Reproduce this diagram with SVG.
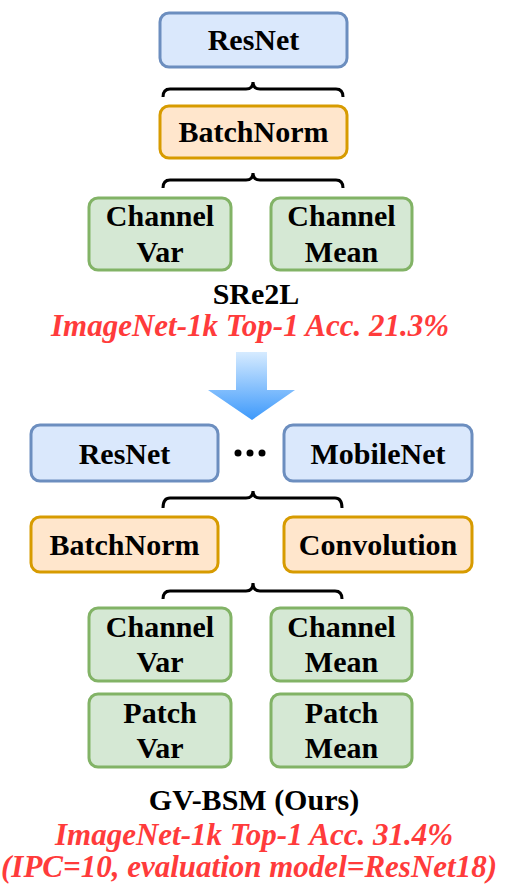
<svg xmlns="http://www.w3.org/2000/svg" width="508" height="886" viewBox="0 0 508 886">
<style>
.t{font-family:"Liberation Serif","Times New Roman",serif;font-weight:bold;font-size:30px;fill:#000;text-anchor:middle}
.r{font-family:"Liberation Serif","Times New Roman",serif;font-weight:bold;font-style:italic;font-size:31px;fill:#ff3b3b;text-anchor:middle}
.blue{fill:#dae8fc;stroke:#6c8ebf;stroke-width:3}
.org{fill:#ffe6cc;stroke:#d79b00;stroke-width:3}
.grn{fill:#d5e8d4;stroke:#82b366;stroke-width:3}
.br{fill:none;stroke:#000;stroke-width:3}
</style>
<defs>
<linearGradient id="ag" x1="0" y1="0" x2="0" y2="1">
<stop offset="0" stop-color="#d6ebff"/>
<stop offset="1" stop-color="#3d99fb"/>
</linearGradient>
</defs>
<g id="resnet1"><rect class="blue" x="160" y="13" width="187" height="54" rx="9"/><text class="t" x="253.5" y="50">ResNet</text></g>
<g id="batchnorm1"><rect class="org" x="160" y="106" width="187" height="52" rx="9"/><text class="t" x="253.5" y="142">BatchNorm</text></g>
<g id="chvar1"><rect class="grn" x="89" y="198" width="142" height="72" rx="9"/><text class="t" x="160" y="226">Channel</text><text class="t" x="160" y="262">Var</text></g>
<g id="chmean1"><rect class="grn" x="271" y="198" width="141" height="72" rx="9"/><text class="t" x="341.5" y="226">Channel</text><text class="t" x="341.5" y="262">Mean</text></g>
<g id="sre2l"><text class="t" x="256" y="304">SRe2L</text><text class="r" x="250" y="336">ImageNet-1k Top-1 Acc. 21.3%</text></g>
<g id="arrow"><path d="M236,352 L267,352 L267,390 L295,390 L252,420 L208,390 L236,390 Z" fill="url(#ag)"/></g>
<g id="resnet2"><rect class="blue" x="31" y="425" width="187" height="56" rx="9"/><text class="t" x="124.5" y="464">ResNet</text></g>
<g id="dots"><circle cx="238" cy="453" r="3.5"/><circle cx="250" cy="453" r="3.5"/><circle cx="262" cy="453" r="3.5"/></g>
<g id="mobilenet"><rect class="blue" x="284" y="425" width="188" height="56" rx="9"/><text class="t" x="378" y="464">MobileNet</text></g>
<g id="batchnorm2"><rect class="org" x="31" y="517" width="187" height="55" rx="9"/><text class="t" x="124.5" y="555">BatchNorm</text></g>
<g id="convolution"><rect class="org" x="284" y="517" width="188" height="55" rx="9"/><text class="t" x="378" y="555">Convolution</text></g>
<g id="chvar2"><rect class="grn" x="89" y="608" width="142" height="73" rx="9"/><text class="t" x="160" y="637">Channel</text><text class="t" x="160" y="672">Var</text></g>
<g id="chmean2"><rect class="grn" x="271" y="608" width="141" height="73" rx="9"/><text class="t" x="341.5" y="637">Channel</text><text class="t" x="341.5" y="672">Mean</text></g>
<g id="patchvar"><rect class="grn" x="89" y="694" width="142" height="73" rx="9"/><text class="t" x="160" y="723">Patch</text><text class="t" x="160" y="758">Var</text></g>
<g id="patchmean"><rect class="grn" x="271" y="694" width="141" height="73" rx="9"/><text class="t" x="341.5" y="723">Patch</text><text class="t" x="341.5" y="758">Mean</text></g>
<g id="gvbsm"><text class="t" x="254" y="810">GV-BSM (Ours)</text><text class="r" x="254" y="845">ImageNet-1k Top-1 Acc. 31.4%</text><text class="r" x="249" y="877">(IPC=10, evaluation model=ResNet18)</text></g>
<g id="connectors">
<path class="br" d="M163,97 Q163,89 170,89 L246,89 Q253,89 253,82 Q253,89 260,89 L336,89 Q343,89 343,97"/>
<path class="br" d="M163,188 Q163,180 170,180 L246,180 Q253,180 253,173 Q253,180 260,180 L336,180 Q343,180 343,188"/>
<path class="br" d="M163,508 Q163,498 170,498 L246,498 Q253,498 253,491 Q253,498 260,498 L335,498 Q342,498 342,508"/>
<path class="br" d="M163,599 Q163,591 170,591 L246,591 Q253,591 253,583 Q253,591 260,591 L335,591 Q342,591 342,599"/>
</g>
</svg>
